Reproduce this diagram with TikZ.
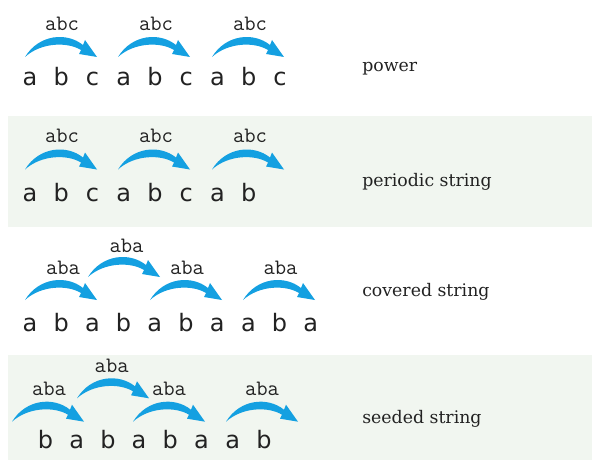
\documentclass[tikz,border=0pt]{standalone}
\usepackage{fontspec}
\newfontfamily\seqfont{DejaVu Sans}
\newfontfamily\capfont{DejaVu Serif}
\definecolor{swooshblue}{RGB}{20,160,225}
\definecolor{bandgreen}{RGB}{241,246,240}
\definecolor{ink}{RGB}{34,34,34}
\tikzset{
  seqtext/.style={font=\seqfont\fontsize{18}{20}\selectfont, text=ink, anchor=base, inner sep=0pt},
  labtext/.style={font=\ttfamily\fontsize{16.5}{18}\selectfont, text=ink, anchor=base, inner sep=0pt},
  captext/.style={font=\capfont\fontsize{13}{15}\selectfont, text=ink, anchor=base west, inner sep=0pt},
  swoosh/.pic={
    \fill[swooshblue] (0,0) .. controls (14,-23) and (42,-25) .. (58,-12)
      -- (60,-17) -- (72,0) -- (54,-3) -- (56,-7)
      .. controls (42,-15.5) and (16,-14.5) .. (0,0) -- cycle;
  }
}
\begin{document}
\begin{tikzpicture}[x=0.75pt,y=-0.75pt]
\useasboundingbox (0,0) rectangle (592,460);
% bands
\fill[bandgreen] (8,116) rectangle (592,227);
\fill[bandgreen] (8,355) rectangle (592,460);

% Row 1: power
\foreach \c [count=\i from 0] in {a,b,c,a,b,c,a,b,c}
  \node[seqtext] (r1-\i) at ({30+31.25*\i},85) {\c};
\pic at (25,57) {swoosh};
\pic at (118,57) {swoosh};
\pic at (212,57) {swoosh};
\node[labtext] (r1-t1) at (62,30.7) {abc};
\node[labtext] (r1-t2) at (156,30.7) {abc};
\node[labtext] (r1-t3) at (250,30.7) {abc};
\node[captext] (c1) at (362,72) {power};

% Row 2: periodic string
\foreach \c [count=\i from 0] in {a,b,c,a,b,c,a,b}
  \node[seqtext] (r2-\i) at ({30+31.25*\i},201) {\c};
\pic at (25,169.5) {swoosh};
\pic at (118,169.5) {swoosh};
\pic at (212,169.5) {swoosh};
\node[labtext] (r2-t1) at (62,142.5) {abc};
\node[labtext] (r2-t2) at (156,142.5) {abc};
\node[labtext] (r2-t3) at (250,142.5) {abc};
\node[captext] (c2) at (362,186.7) {periodic string};

% Row 3: covered string
\foreach \c [count=\i from 0] in {a,b,a,b,a,b,a,a,b,a}
  \node[seqtext] (r3-\i) at ({30+31.2*\i},331) {\c};
\pic at (25,300) {swoosh};
\pic at (88,277) {swoosh};
\pic at (150,300) {swoosh};
\pic at (243,300) {swoosh};
\node[labtext] (r3-t1) at (63,274) {aba};
\node[labtext] (r3-t2) at (126.5,252) {aba};
\node[labtext] (r3-t3) at (187,274) {aba};
\node[labtext] (r3-t4) at (280.5,274) {aba};
\node[captext] (c3) at (362,296.7) {covered string};

% Row 4: seeded string
\foreach \c [count=\i from 0] in {b,a,b,a,b,a,a,b}
  \node[seqtext] (r4-\i) at ({45.5+31.2*\i},448) {\c};
\pic at (12,421.7) {swoosh};
\pic at (77,398.3) {swoosh};
\pic at (133,421.7) {swoosh};
\pic at (226,421.7) {swoosh};
\node[labtext] (r4-t1) at (49,395) {aba};
\node[labtext] (r4-t2) at (111.7,372) {aba};
\node[labtext] (r4-t3) at (169,395) {aba};
\node[labtext] (r4-t4) at (262,395) {aba};
\node[captext] (c4) at (362,423) {seeded string};
\end{tikzpicture}
\end{document}
